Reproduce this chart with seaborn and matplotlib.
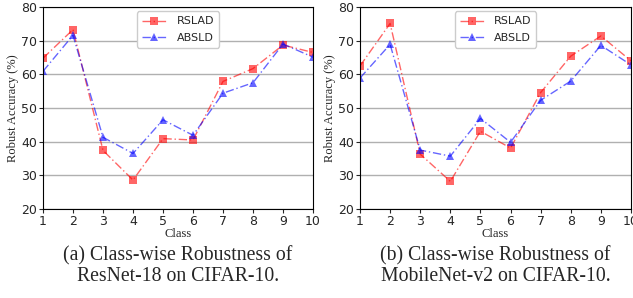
import pandas as pd
import matplotlib.pyplot as plt
import seaborn as sns

# data
classes = [1, 2, 3, 4, 5, 6, 7, 8, 9, 10]
resnet_rslad = [64.8, 73.3, 37.4, 28.6, 40.9, 40.5, 57.9, 61.7, 68.7, 66.5]
resnet_absld = [60.9, 71.6, 41.3, 36.5, 46.5, 41.9, 54.4, 57.5, 69.0, 65.1]
mobile_rslad = [62.5, 75.1, 36.3, 28.2, 43.1, 38.1, 54.6, 65.4, 71.4, 64.0]
mobile_absld = [58.9, 68.9, 37.5, 35.7, 46.9, 39.8, 52.3, 58.0, 68.6, 62.8]
captions = ["(a) Class-wise Robustness of\nResNet-18 on CIFAR-10.",
            "(b) Class-wise Robustness of\nMobileNet-v2 on CIFAR-10."]

sns.set_style("white")
plt.rcParams['font.family'] = ['DejaVu Sans']

fig = plt.figure(figsize=(6.33, 2.98), dpi=100)
W, H = 633, 298
boxes = [(43, 7, 313, 209), (360, 7, 631, 209)]
series = [(resnet_rslad, resnet_absld), (mobile_rslad, mobile_absld)]

for (x0, y0, x1, y1), (rs, ab), cap in zip(boxes, series, captions):
    ax = fig.add_axes([x0 / W, 1 - y1 / H, (x1 - x0) / W, (y1 - y0) / H])
    df = pd.DataFrame({
        "Class": classes * 2,
        "acc": rs + ab,
        "method": ["RSLAD"] * len(classes) + ["ABSLD"] * len(classes),
    })
    sns.lineplot(data=df, x="Class", y="acc", hue="method", style="method",
                 palette={"RSLAD": "red", "ABSLD": "blue"},
                 markers={"RSLAD": "s", "ABSLD": "^"},
                 dashes={"RSLAD": (6, 2, 1, 2), "ABSLD": (6, 2, 1, 2)},
                 alpha=0.6, linewidth=1.0, markersize=6, markeredgewidth=0,
                 ax=ax)
    ax.set_xlim(1, 10)
    ax.set_ylim(20, 80)
    ax.set_xticks(classes)
    ax.set_yticks([20, 30, 40, 50, 60, 70, 80])
    ax.yaxis.grid(True, color="#b0b0b0", linewidth=1.0)
    ax.xaxis.grid(False)
    ax.tick_params(axis="both", labelsize=9, length=3, pad=1, direction="out",
                   bottom=True, left=True)
    for s in ax.spines.values():
        s.set_color("black")
        s.set_linewidth(0.8)
    ax.set_xlabel("Class", family="Liberation Serif", fontsize=9, labelpad=0)
    ax.set_ylabel("Robust Accuracy (%)", family="Liberation Serif", fontsize=9,
                  labelpad=2)
    leg = ax.legend(loc="upper center", fontsize=8, frameon=True,
                    handlelength=2.2, borderpad=0.45, labelspacing=0.55,
                    handletextpad=0.9, borderaxespad=0.4)
    leg.get_frame().set_edgecolor("#cccccc")
    leg.get_frame().set_alpha(1.0)
    fig.text((x0 + x1) / 2 / W, 1 - 266 / H, cap, ha="center", va="center",
             family="Liberation Serif", fontsize=14.2, linespacing=1.05)

fig.savefig("out.png", dpi=100)
